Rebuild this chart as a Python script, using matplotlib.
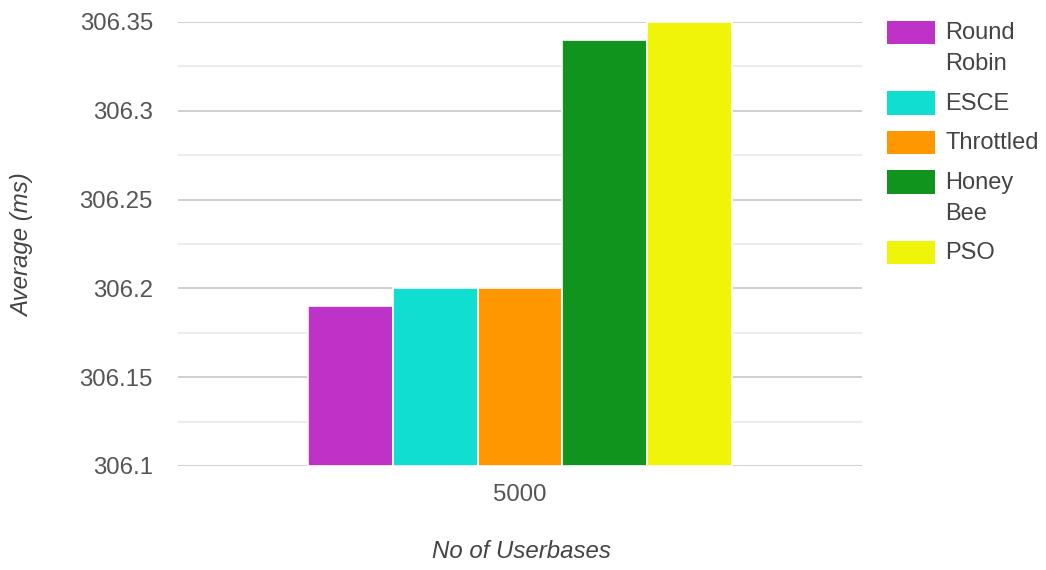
import matplotlib
matplotlib.use("Agg")
import matplotlib.pyplot as plt
from matplotlib.patches import Rectangle
import numpy as np

plt.rcParams['font.family'] = ['Liberation Sans', 'DejaVu Sans']

# ---- data ----
categories = ["5000"]
series_names = ["Round Robin", "ESCE", "Throttled", "Honey Bee", "PSO"]
series_values = [306.19, 306.20, 306.20, 306.34, 306.35]
series_colors = ["#BF32C8", "#10DED0", "#FF9800", "#11941D", "#F0F408"]
y_ticks = [306.1, 306.15, 306.2, 306.25, 306.3, 306.35]
y_tick_labels = ["306.1", "306.15", "306.2", "306.25", "306.3", "306.35"]
y_minor_ticks = [306.125, 306.175, 306.225, 306.275, 306.325]
x_title = "No of Userbases"
y_title = "Average (ms)"

W, H = 1046, 570
fig = plt.figure(figsize=(W / 100, H / 100), dpi=100)
ax = fig.add_axes([178 / W, 1 - 466 / H, (862 - 178) / W, (466 - 22) / H])

n = len(series_names)
offsets = np.arange(n) - (n - 1) / 2
for i, (name, val, col) in enumerate(zip(series_names, series_values, series_colors)):
    ax.bar(0 + offsets[i], val - y_ticks[0], bottom=y_ticks[0], width=1.0,
           color=col, edgecolor="white", linewidth=1.2, zorder=3, label=name)

ax.set_xlim(-4.03, 4.03)
ax.set_ylim(y_ticks[0], y_ticks[-1])
ax.set_yticks(y_ticks)
ax.set_yticklabels(y_tick_labels)
ax.set_yticks(y_minor_ticks, minor=True)
ax.set_xticks([0])
ax.set_xticklabels(categories)

ax.grid(axis="y", which="major", color="#cccccc", linewidth=1.3, zorder=0)
ax.grid(axis="y", which="minor", color="#ebebeb", linewidth=1.3, zorder=0)
ax.set_axisbelow(True)
for s in ax.spines.values():
    s.set_visible(False)
ax.tick_params(axis="both", which="both", length=0)
ax.tick_params(axis="y", pad=18, labelsize=17.3, labelcolor="#555555")
ax.tick_params(axis="x", pad=13, labelsize=17.3, labelcolor="#555555")

fig.text(521 / W, 1 - 552 / H, x_title, ha="center", va="center",
         fontsize=17.3, style="italic", color="#444444")
fig.text(23 / W, 1 - 245 / H, y_title, ha="center", va="center", rotation=90,
         fontsize=17.3, style="italic", color="#444444")

# ---- legend (manual, wrapped like the reference) ----
top = 20.7
line_h = 31
for name, col in zip(series_names, series_colors):
    lines = name.split(" ")
    fig.add_artist(Rectangle((887 / W, 1 - (top + 23.5) / H), 48 / W, 23.5 / H,
                             transform=fig.transFigure, facecolor=col,
                             edgecolor="none"))
    for k, ln in enumerate(lines):
        fig.text(945 / W, 1 - (top + 18.7 + k * line_h) / H, ln, ha="left",
                 va="baseline", fontsize=17, color="#444444")
    top += len(lines) * line_h + 8.5

fig.savefig("out.png", dpi=100)
